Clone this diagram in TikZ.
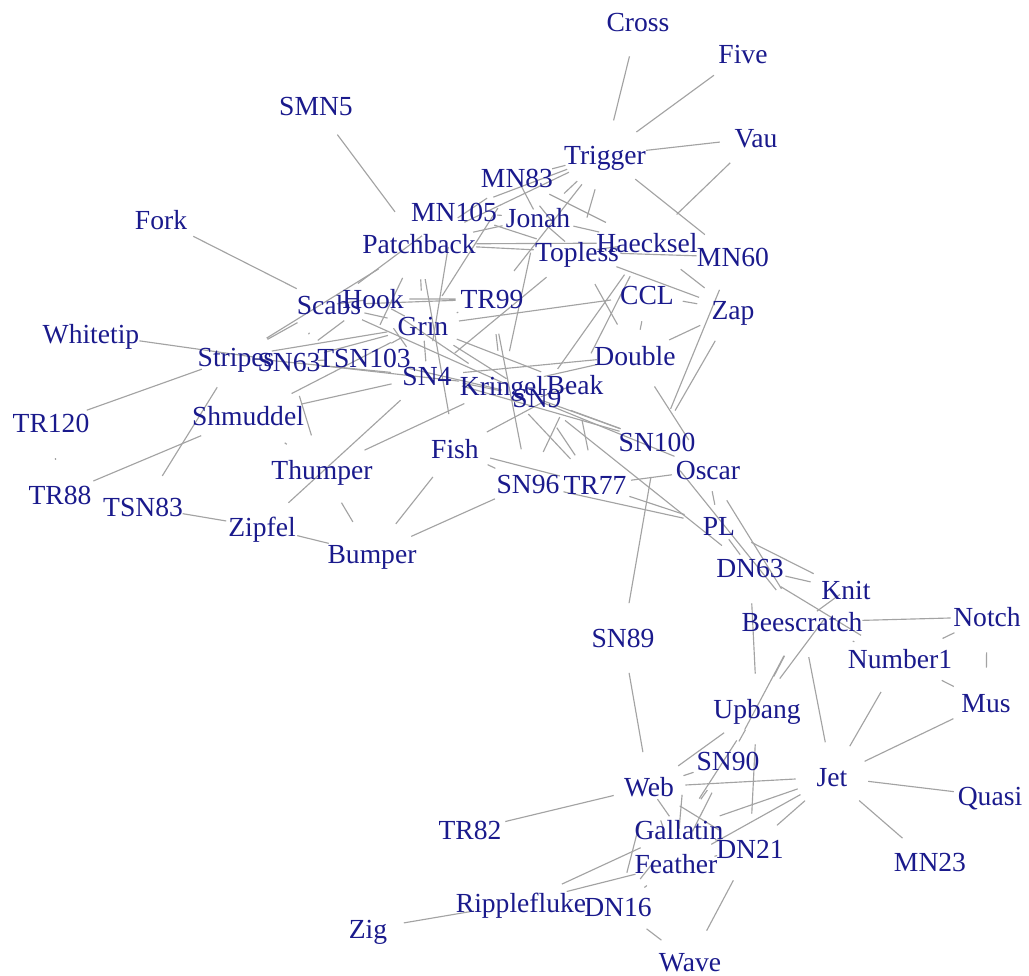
\documentclass[tikz,border=0pt]{standalone}
\usepackage{fontspec}
\setmainfont{Liberation Serif}
\usepackage{xcolor}
\definecolor{cLabel}{HTML}{1A1A8C}
\definecolor{cEdge}{HTML}{A3A3A3}
\usepackage{tikz}
\usetikzlibrary{shapes.geometric,backgrounds}
\tikzset{
  node-dolphin/.style={ellipse,inner sep=0pt,minimum width=1.44cm,minimum height=1.4cm},
  node-label/.style={text=cLabel,inner sep=0pt,text height=10.4pt,text depth=0pt,
    font=\fontsize{15.7}{18}\selectfont},
  edge-tie/.style={draw=cEdge,line width=0.65pt},
}

\begin{document}
\begin{tikzpicture}[x=0.02cm,y=-0.02cm]
  \useasboundingbox (0,0) rectangle (1029,976);
  % dolphins, placed at the label centres
  \node[node-dolphin,label={[node-label]center:Beak}] (beak) at (575,385) {};
  \node[node-dolphin,minimum width=2.4cm,label={[node-label]center:Beescratch}] (beescratch) at (802,622) {};
  \node[node-dolphin,minimum width=1.8cm,label={[node-label]center:Bumper}] (bumper) at (372,554) {};
  \node[node-dolphin,label={[node-label]center:CCL}] (ccl) at (647,295) {};
  \node[node-dolphin,label={[node-label]center:Cross}] (cross) at (638,22) {};
  \node[node-dolphin,label={[node-label]center:DN16}] (dn16) at (618,907) {};
  \node[node-dolphin,label={[node-label]center:DN21}] (dn21) at (750,849) {};
  \node[node-dolphin,label={[node-label]center:DN63}] (dn63) at (750,568) {};
  \node[node-dolphin,minimum width=1.52cm,label={[node-label]center:Double}] (double) at (635,356) {};
  \node[node-dolphin,minimum width=1.68cm,label={[node-label]center:Feather}] (feather) at (676,864) {};
  \node[node-dolphin,label={[node-label]center:Fish}] (fish) at (455,449) {};
  \node[node-dolphin,label={[node-label]center:Five}] (five) at (743,54) {};
  \node[node-dolphin,label={[node-label]center:Fork}] (fork) at (161,220) {};
  \node[node-dolphin,minimum width=1.76cm,label={[node-label]center:Gallatin}] (gallatin) at (679,830) {};
  \node[node-dolphin,label={[node-label]center:Grin}] (grin) at (423,326) {};
  \node[node-dolphin,minimum width=2cm,label={[node-label]center:Haecksel}] (haecksel) at (647,243) {};
  \node[node-dolphin,label={[node-label]center:Hook}] (hook) at (373,299) {};
  \node[node-dolphin,label={[node-label]center:Jet}] (jet) at (832,777) {};
  \node[node-dolphin,label={[node-label]center:Jonah}] (jonah) at (538,218) {};
  \node[node-dolphin,label={[node-label]center:Knit}] (knit) at (846,590) {};
  \node[node-dolphin,minimum width=1.72cm,label={[node-label]center:Kringel}] (kringel) at (502,386) {};
  \node[node-dolphin,minimum width=1.72cm,label={[node-label]center:MN105}] (mn105) at (454,212) {};
  \node[node-dolphin,minimum width=1.48cm,label={[node-label]center:MN23}] (mn23) at (930,862) {};
  \node[node-dolphin,label={[node-label]center:MN60}] (mn60) at (733,257) {};
  \node[node-dolphin,label={[node-label]center:MN83}] (mn83) at (517,178) {};
  \node[node-dolphin,label={[node-label]center:Mus}] (mus) at (986,703) {};
  \node[node-dolphin,label={[node-label]center:Notch}] (notch) at (987,617) {};
  \node[node-dolphin,minimum width=2.08cm,label={[node-label]center:Number1}] (number1) at (900,659) {};
  \node[node-dolphin,label={[node-label]center:Oscar}] (oscar) at (708,470) {};
  \node[node-dolphin,minimum width=2.28cm,label={[node-label]center:Patchback}] (patchback) at (419,244) {};
  \node[node-dolphin,label={[node-label]center:PL}] (pl) at (719,526) {};
  \node[node-dolphin,label={[node-label]center:Quasi}] (quasi) at (990,796) {};
  \node[node-dolphin,minimum width=1.92cm,label={[node-label]center:Ripplefluke}] (ripplefluke) at (521,903) {};
  \node[node-dolphin,label={[node-label]center:Scabs}] (scabs) at (329,305) {};
  \node[node-dolphin,minimum width=2.24cm,label={[node-label]center:Shmuddel}] (shmuddel) at (248,416) {};
  \node[node-dolphin,label={[node-label]center:SMN5}] (smn5) at (316,106) {};
  \node[node-dolphin,minimum width=1.56cm,label={[node-label]center:SN100}] (sn100) at (657,442) {};
  \node[node-dolphin,label={[node-label]center:SN4}] (sn4) at (427,376) {};
  \node[node-dolphin,label={[node-label]center:SN63}] (sn63) at (289,362) {};
  \node[node-dolphin,label={[node-label]center:SN89}] (sn89) at (623,638) {};
  \node[node-dolphin,label={[node-label]center:SN9}] (sn9) at (537,398) {};
  \node[node-dolphin,label={[node-label]center:SN90}] (sn90) at (728,761) {};
  \node[node-dolphin,label={[node-label]center:SN96}] (sn96) at (528,484) {};
  \node[node-dolphin,label={[node-label]center:Stripes}] (stripes) at (236,357) {};
  \node[node-dolphin,minimum width=2.04cm,label={[node-label]center:Thumper}] (thumper) at (322,470) {};
  \node[node-dolphin,minimum width=1.72cm,label={[node-label]center:Topless}] (topless) at (577,252) {};
  \node[node-dolphin,minimum width=1.52cm,label={[node-label]center:TR120}] (tr120) at (51,423) {};
  \node[node-dolphin,label={[node-label]center:TR77}] (tr77) at (595,485) {};
  \node[node-dolphin,label={[node-label]center:TR82}] (tr82) at (470,830) {};
  \node[node-dolphin,label={[node-label]center:TR88}] (tr88) at (60,495) {};
  \node[node-dolphin,label={[node-label]center:TR99}] (tr99) at (492,299) {};
  \node[node-dolphin,minimum width=1.64cm,label={[node-label]center:Trigger}] (trigger) at (605,155) {};
  \node[node-dolphin,minimum width=1.84cm,label={[node-label]center:TSN103}] (tsn103) at (364,358) {};
  \node[node-dolphin,minimum width=1.6cm,label={[node-label]center:TSN83}] (tsn83) at (143,507) {};
  \node[node-dolphin,minimum width=1.76cm,label={[node-label]center:Upbang}] (upbang) at (757,709) {};
  \node[node-dolphin,label={[node-label]center:Vau}] (vau) at (756,138) {};
  \node[node-dolphin,label={[node-label]center:Wave}] (wave) at (690,962) {};
  \node[node-dolphin,label={[node-label]center:Web}] (web) at (649,787) {};
  \node[node-dolphin,minimum width=1.96cm,label={[node-label]center:Whitetip}] (whitetip) at (91,334) {};
  \node[node-dolphin,label={[node-label]center:Zap}] (zap) at (733,310) {};
  \node[node-dolphin,label={[node-label]center:Zig}] (zig) at (368,929) {};
  \node[node-dolphin,label={[node-label]center:Zipfel}] (zipfel) at (262,527) {};
  % ties, one line per dolphin
  \begin{scope}[on background layer]
    \draw[edge-tie] (double) -- (ccl);
    \draw[edge-tie] (feather) -- (dn16) (feather) -- (dn21);
    \draw[edge-tie] (fish) -- (beak) (fish) -- (bumper);
    \draw[edge-tie] (gallatin) -- (dn16) (gallatin) -- (dn21) (gallatin) -- (feather);
    \draw[edge-tie] (grin) -- (beak) (grin) -- (ccl);
    \draw[edge-tie] (haecksel) -- (beak);
    \draw[edge-tie] (hook) -- (grin);
    \draw[edge-tie] (jet) -- (beescratch) (jet) -- (dn21) (jet) -- (feather) (jet) -- (gallatin);
    \draw[edge-tie] (jonah) -- (haecksel);
    \draw[edge-tie] (knit) -- (beescratch) (knit) -- (dn63);
    \draw[edge-tie] (kringel) -- (double) (kringel) -- (hook) (kringel) -- (jonah);
    \draw[edge-tie] (mn105) -- (jonah);
    \draw[edge-tie] (mn23) -- (jet);
    \draw[edge-tie] (mn83) -- (grin) (mn83) -- (haecksel) (mn83) -- (jonah);
    \draw[edge-tie] (mus) -- (jet);
    \draw[edge-tie] (notch) -- (beescratch) (notch) -- (mus);
    \draw[edge-tie] (number1) -- (beescratch) (number1) -- (dn63) (number1) -- (jet)
      (number1) -- (mus) (number1) -- (notch);
    \draw[edge-tie] (oscar) -- (beescratch) (oscar) -- (double) (oscar) -- (kringel);
    \draw[edge-tie] (patchback) -- (fish) (patchback) -- (grin) (patchback) -- (haecksel)
      (patchback) -- (jonah) (patchback) -- (mn83);
    \draw[edge-tie] (pl) -- (dn63) (pl) -- (knit) (pl) -- (oscar);
    \draw[edge-tie] (quasi) -- (jet);
    \draw[edge-tie] (ripplefluke) -- (feather) (ripplefluke) -- (gallatin);
    \draw[edge-tie] (scabs) -- (fork) (scabs) -- (grin) (scabs) -- (hook) (scabs) -- (mn105);
    \draw[edge-tie] (shmuddel) -- (grin);
    \draw[edge-tie] (smn5) -- (patchback);
    \draw[edge-tie] (sn100) -- (beescratch) (sn100) -- (kringel) (sn100) -- (mn60);
    \draw[edge-tie] (sn4) -- (double) (sn4) -- (grin) (sn4) -- (hook) (sn4) -- (mn105)
      (sn4) -- (shmuddel) (sn4) -- (sn100);
    \draw[edge-tie] (sn63) -- (grin) (sn63) -- (hook) (sn63) -- (kringel) (sn63) -- (scabs);
    \draw[edge-tie] (sn89) -- (sn100);
    \draw[edge-tie] (sn9) -- (beak) (sn9) -- (dn63) (sn9) -- (grin) (sn9) -- (haecksel)
      (sn9) -- (scabs) (sn9) -- (sn100) (sn9) -- (sn4);
    \draw[edge-tie] (sn90) -- (beescratch) (sn90) -- (feather) (sn90) -- (gallatin);
    \draw[edge-tie] (sn96) -- (beak) (sn96) -- (bumper) (sn96) -- (fish) (sn96) -- (pl);
    \draw[edge-tie] (stripes) -- (grin) (stripes) -- (patchback) (stripes) -- (scabs)
      (stripes) -- (sn4) (stripes) -- (sn63);
    \draw[edge-tie] (thumper) -- (bumper) (thumper) -- (kringel) (thumper) -- (shmuddel)
      (thumper) -- (sn63);
    \draw[edge-tie] (topless) -- (double) (topless) -- (haecksel) (topless) -- (jonah)
      (topless) -- (mn105) (topless) -- (mn60) (topless) -- (mn83) (topless) -- (patchback)
      (topless) -- (sn4);
    \draw[edge-tie] (tr120) -- (stripes);
    \draw[edge-tie] (tr77) -- (beak) (tr77) -- (fish) (tr77) -- (kringel) (tr77) -- (oscar)
      (tr77) -- (pl) (tr77) -- (sn9);
    \draw[edge-tie] (tr88) -- (shmuddel) (tr88) -- (tr120);
    \draw[edge-tie] (tr99) -- (grin) (tr99) -- (hook) (tr99) -- (kringel) (tr99) -- (scabs)
      (tr99) -- (sn96);
    \draw[edge-tie] (trigger) -- (cross) (trigger) -- (five) (trigger) -- (jonah)
      (trigger) -- (mn105) (trigger) -- (mn60) (trigger) -- (mn83) (trigger) -- (patchback)
      (trigger) -- (topless) (trigger) -- (tr99);
    \draw[edge-tie] (tsn103) -- (grin) (tsn103) -- (patchback) (tsn103) -- (sn63) (tsn103) -- (sn9);
    \draw[edge-tie] (tsn83) -- (stripes);
    \draw[edge-tie] (upbang) -- (beescratch) (upbang) -- (dn21) (upbang) -- (dn63)
      (upbang) -- (gallatin) (upbang) -- (knit) (upbang) -- (sn90);
    \draw[edge-tie] (vau) -- (haecksel) (vau) -- (trigger);
    \draw[edge-tie] (wave) -- (dn16) (wave) -- (dn21);
    \draw[edge-tie] (web) -- (dn16) (web) -- (dn21) (web) -- (feather) (web) -- (gallatin)
      (web) -- (jet) (web) -- (sn89) (web) -- (sn90) (web) -- (tr82) (web) -- (upbang);
    \draw[edge-tie] (whitetip) -- (sn63);
    \draw[edge-tie] (zap) -- (ccl) (zap) -- (double) (zap) -- (haecksel) (zap) -- (sn100)
      (zap) -- (topless);
    \draw[edge-tie] (zig) -- (ripplefluke);
    \draw[edge-tie] (zipfel) -- (bumper) (zipfel) -- (sn4) (zipfel) -- (tsn83);
  \end{scope}
\end{tikzpicture}
\end{document}
